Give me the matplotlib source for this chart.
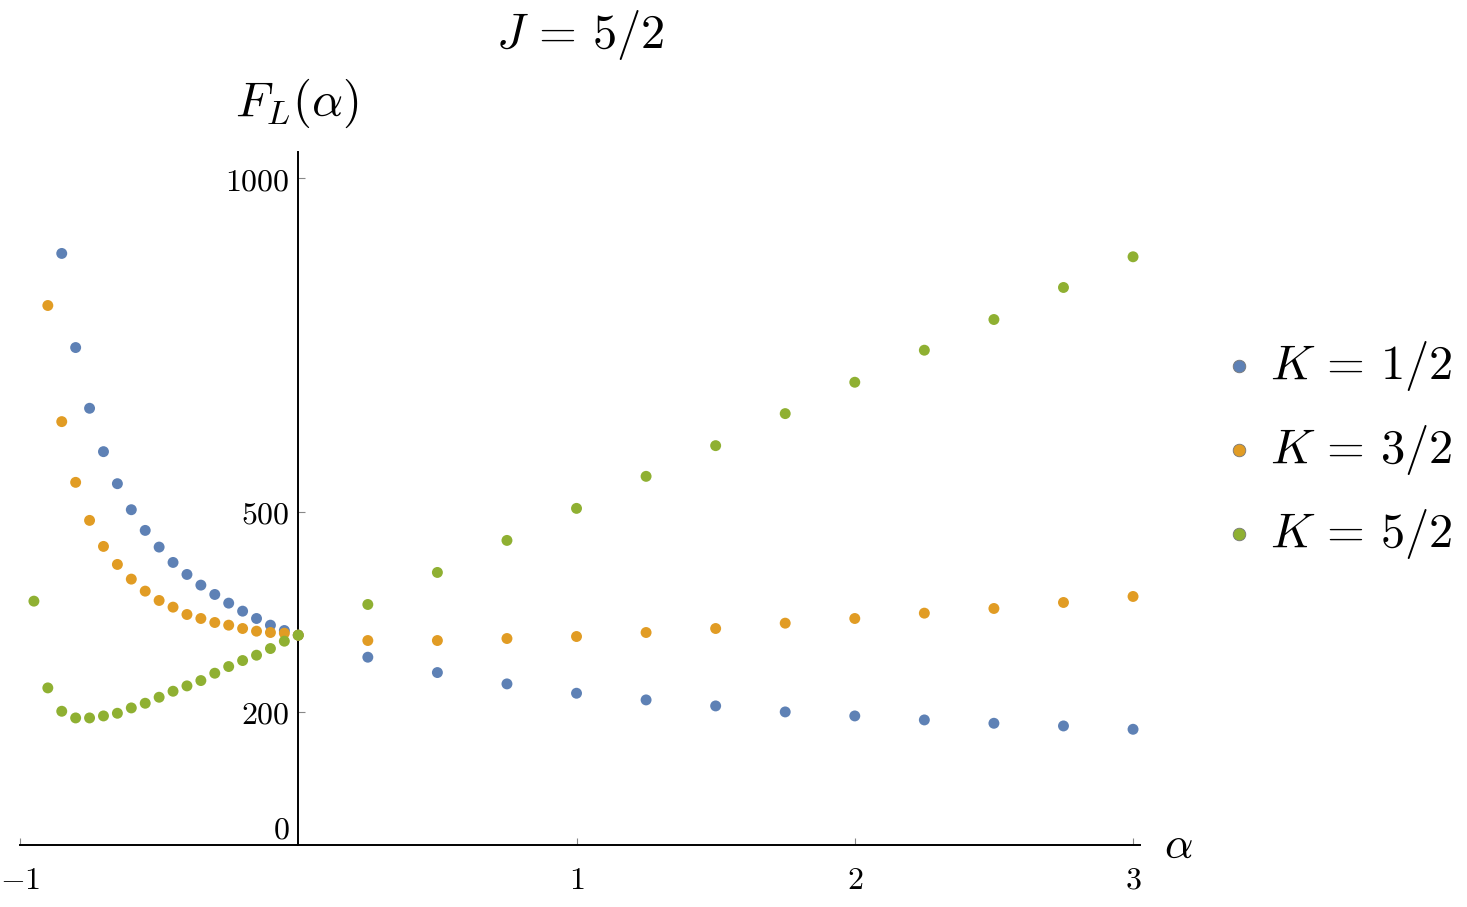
import matplotlib
matplotlib.use("Agg")
import matplotlib.pyplot as plt

plt.rcParams['mathtext.fontset'] = 'cm'
plt.rcParams['font.family'] = 'DejaVu Serif'

# alpha grid (fine steps on the negative side, coarse on the positive side)
alpha_left = [-0.95, -0.90, -0.85, -0.80, -0.75, -0.70, -0.65, -0.60, -0.55, -0.50,
              -0.45, -0.40, -0.35, -0.30, -0.25, -0.20, -0.15, -0.10, -0.05, 0.0]
alpha_right = [0.25, 0.5, 0.75, 1.0, 1.25, 1.5, 1.75, 2.0, 2.25, 2.5, 2.75, 3.0]

# K = 1/2 (first two points are off the top)
k12_left = [887, 746, 655, 590, 542, 503, 472, 447, 424, 406, 390, 376, 363,
            351, 340, 330, 322, 315]
k12_right = [282, 259, 242, 228, 218, 209, 200, 194, 188, 183, 179, 174]
# K = 3/2 (first point off the top)
k32_left = [809, 635, 544, 487, 448, 421, 399, 381, 367, 357, 346, 340, 334,
            330, 325, 321, 319, 318, 315]
k32_right = [307, 307, 310, 313, 319, 325, 333, 340, 348, 355, 364, 373]
# K = 5/2
k52_left = [366, 236, 201, 191, 191, 194, 198, 206, 213, 222, 231, 239, 247,
            258, 268, 277, 285, 295, 306, 315]
k52_right = [361, 409, 457, 505, 553, 599, 647, 694, 742, 788, 836, 882]

xticks = [-1, 1, 2, 3]
yticks = [0, 200, 500, 1000]

series = [
    ("$K\\,=\\,1/2$", "#5E81B5", alpha_left[2:], k12_left, k12_right),
    ("$K\\,=\\,3/2$", "#E19C24", alpha_left[1:], k32_left, k32_right),
    ("$K\\,=\\,5/2$", "#8FB032", alpha_left, k52_left, k52_right),
]

fig = plt.figure(figsize=(14.67, 9.07), dpi=100)
ax = fig.add_axes([20 / 1467, 61.6 / 907, 1120 / 1467, 693.4 / 907])

for label, col, xl, yl, yr in series:
    ax.scatter(xl + alpha_right, yl + yr, s=62, color=col, edgecolors='none',
               zorder=3, clip_on=False, label=label)

ax.set_xlim(-1, 3.025)
ax.set_ylim(0, 1039)

for s in ['top', 'right']:
    ax.spines[s].set_visible(False)
ax.spines['left'].set_position(('data', 0))
ax.spines['bottom'].set_position(('data', 0))
for s in ['left', 'bottom']:
    ax.spines[s].set_linewidth(1.4)

ax.set_xticks(xticks)
ax.set_xticklabels(['$%d$' % t for t in xticks])
ax.set_yticks(yticks)
ax.set_yticklabels(['$%d$' % t for t in yticks])
ax.tick_params(axis='x', direction='in', length=5, width=0.8, color='#888888',
               labelsize=23, pad=14)
ax.tick_params(axis='y', direction='in', length=5, width=0.8, color='#888888',
               labelsize=23, pad=6)
ax.yaxis.get_major_ticks()[0].tick1line.set_visible(False)
ax.yaxis.get_major_ticks()[0].label1.set_verticalalignment('bottom')

ax.text(1.034, 0.0, r'$\alpha$', transform=ax.transAxes, fontsize=32,
        ha='center', va='center')
ax.text(0.247, 1.0707, r'$F_L(\alpha)$', transform=ax.transAxes, fontsize=35,
        ha='center', va='center')
ax.text(0.5, 1.169, r'$J\,=\,5/2$', transform=ax.transAxes, fontsize=35,
        ha='center', va='center')

leg = fig.legend(loc='center left', bbox_to_anchor=(1224 / 1467, 1 - 450 / 907),
                 frameon=False, fontsize=35, borderpad=0, borderaxespad=0,
                 handletextpad=0.34, labelspacing=0.62, markerscale=1.15,
                 handlelength=0.6)
for h in leg.legend_handles:
    h.set_edgecolor('#777777')
    h.set_linewidth(0.6)

fig.savefig('out.png', dpi=100)
